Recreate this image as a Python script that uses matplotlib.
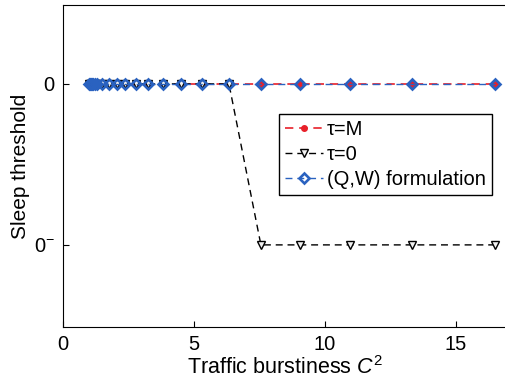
import matplotlib
matplotlib.use("Agg")
import matplotlib.pyplot as plt

plt.rcParams['font.family'] = ['Liberation Sans', 'DejaVu Sans']
plt.rcParams['mathtext.fontset'] = 'custom'
plt.rcParams['mathtext.rm'] = 'Liberation Sans'
plt.rcParams['mathtext.it'] = 'Liberation Sans:italic'

# traffic burstiness values (C^2)
c2 = [1.0, 1.03, 1.07, 1.11, 1.16, 1.22, 1.29, 1.49, 1.76, 2.06, 2.37, 2.79,
      3.24, 3.82, 4.50, 5.31, 6.34, 7.56, 9.05, 10.95, 13.32, 16.49]
# sleep threshold: 1 -> "0", 0 -> "0-"
thr_tau_M = [1] * 22
thr_tau_0 = [1] * 17 + [0] * 5
thr_QW = [1] * 22

ytick_vals = [0, 1]
ytick_labels = [r'$0^{-}$', '0']

fig = plt.figure(figsize=(5.06, 3.87), dpi=100)
ax = fig.add_axes([63 / 506, 60 / 387, 445 / 506, 322 / 387])

red = '#e8202a'
blue = '#2a62c0'
dash = (5, 3.5)
ax.plot(c2, thr_tau_M, '--', color=red, marker='o', ms=4, mfc=red, mec=red,
        lw=1.2, dashes=dash, label='τ=M', zorder=2)
ax.plot(c2, thr_tau_0, '--', color='black', marker='v', ms=6, mfc='#f2f2f2',
        mec='black', mew=1.0, lw=1.0, dashes=dash, label='τ=0', zorder=3)
ax.plot(c2, thr_QW, '--', color=blue, marker='D', ms=5, mfc='none', mec=blue,
        mew=1.9, lw=1.0, dashes=dash, label='(Q,W) formulation', zorder=4)

ax.set_xlim(0, 17)
ax.set_ylim(-0.51, 1.49)
ax.set_xticks([0, 5, 10, 15])
ax.set_yticks(ytick_vals)
ax.set_yticklabels(ytick_labels)
ax.tick_params(direction='in', labelsize=14.5, length=4, pad=6)

ax.set_xlabel(r'Traffic burstiness $C^2$', fontsize=15.5, labelpad=1)
ax.set_ylabel('Sleep threshold', fontsize=15, labelpad=3)

leg = ax.legend(loc='upper right', bbox_to_anchor=(0.964, 0.661),
                borderaxespad=0, fontsize=14.5, handlelength=1.9,
                handletextpad=0.2, labelspacing=0.3, fancybox=False,
                framealpha=1, edgecolor='black', borderpad=0.3)
leg.get_frame().set_linewidth(1.0)

fig.savefig('out.png', dpi=100)
